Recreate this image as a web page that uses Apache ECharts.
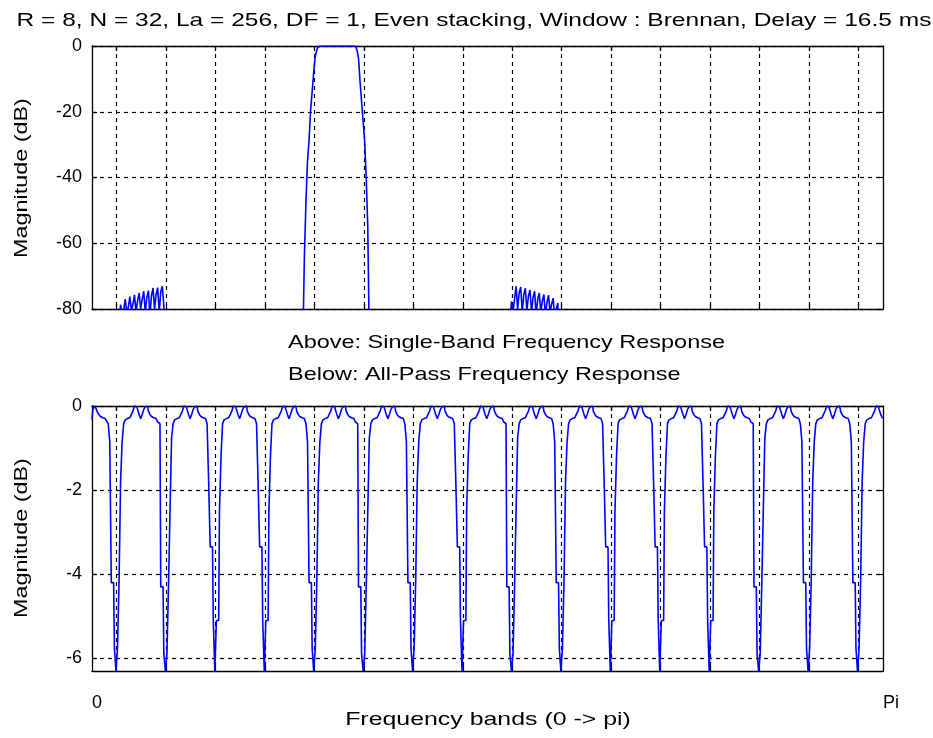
<!DOCTYPE html>
<html>
<head>
<meta charset="utf-8">
<title>Filter bank frequency response</title>
<script src="https://cdn.jsdelivr.net/npm/echarts@6/dist/echarts.min.js"></script>
<style>
  html, body { margin: 0; padding: 0; background: #fff; }
  #chart { width: 933px; height: 738px; }
</style>
</head>
<body>
<div id="chart"></div>
<script>
// Frequency grid: 32 samples per band, 16 bands between 0 and pi (x in band units)
const SAMPLES_PER_BAND = 32;

// Vertical grid lines sit on the band edges
const bandEdges = [0.5, 1.5, 2.5, 3.5, 4.5, 5.5, 6.5, 7.5, 8.5, 9.5, 10.5, 11.5, 12.5, 13.5, 14.5, 15.5];
const singleBandTicks = [0, -20, -40, -60, -80];
const allPassTicks = [0, -2, -4, -6];
const bandEndLabels = ['0', 'Pi'];

// Single-band response (dB). Only the pieces that rise above -80 dB are kept;
// each piece starts at the given sample index on the frequency grid.
const imageLobeLowStart = 17;
const imageLobeLow = [
  -95, -84, -78.7, -82, -80.5, -77, -81, -79.5, -76.2, -80.5, -78.5, -75.7, -81, -77.5, -75.1, -80,
  -77, -74.6, -81, -76.5, -74.4, -82, -76, -73.6, -80, -75.5, -73.5, -81, -74.8, -73.1, -79, -95
];
const mainLobeStart = 136;
const mainLobe = [
  -110, -90, -63.5, -47.3, -35, -28.6, -19.5, -13.9, -8, -3.2, -1.2, -0.3,
  0, 0, 0, 0, 0, 0, 0, 0, 0, 0, 0, 0, 0, 0, 0, 0, 0, 0, 0, 0, 0, 0, 0,
  -0.3, -1.2, -3.7, -10.8, -16.9, -23, -29, -40.2, -55, -90, -110
];
const imageLobeHighStart = 270;
const imageLobeHigh = [
  -95, -84, -77.7, -81, -77, -73.1, -80, -75, -73.3, -81, -75.5, -73.7, -80.5, -76, -74.2, -81,
  -76.5, -74.6, -82, -77, -75.1, -81, -77.5, -75.6, -82, -78, -75.8, -81, -78.5, -76.7, -83, -80,
  -78.2, -95
];

// All-pass response (dB), one row per band: starts at the band centre,
// passes the notch at the band edge and ends just before the next centre.
const allPassBand0 = [-0.33, -0.1, 0, -0.05, -0.15, -0.2, -0.25, -0.28, -0.3, -0.32, -0.36, -0.42, -0.85, -4.2, -4.2, -5.76, -6.3, -5.76, -4.2, -1.8, -0.85, -0.42, -0.33, -0.3, -0.28, -0.25, -0.2, -0.12, 0, -0.02, -0.08, -0.2];
const allPassBand1 = [-0.3, -0.2, -0.08, -0.02, 0, -0.12, -0.2, -0.25, -0.28, -0.3, -0.33, -0.38, -0.42, -4.3, -4.3, -5.9, -6.3, -5.9, -4.3, -2.5, -0.76, -0.42, -0.33, -0.3, -0.28, -0.25, -0.2, -0.12, 0, -0.02, -0.08, -0.2];
const allPassBand2 = [-0.3, -0.2, -0.08, -0.02, 0, -0.12, -0.2, -0.25, -0.28, -0.3, -0.33, -0.42, -1.8, -3.35, -3.35, -5.1, -6.3, -5.1, -5.1, -2.5, -1.2, -0.42, -0.33, -0.3, -0.28, -0.25, -0.2, -0.12, 0, -0.02, -0.08, -0.2];
const allPassBand3 = [-0.3, -0.2, -0.08, -0.02, 0, -0.12, -0.2, -0.25, -0.28, -0.3, -0.33, -0.42, -1.8, -3.35, -3.35, -5.1, -6.3, -5.1, -5.1, -2.5, -1.2, -0.42, -0.33, -0.3, -0.28, -0.25, -0.2, -0.12, 0, -0.02, -0.08, -0.2];
const allPassBand4 = [-0.3, -0.2, -0.08, -0.02, 0, -0.12, -0.2, -0.25, -0.28, -0.3, -0.33, -0.42, -0.85, -4.2, -4.2, -5.76, -6.3, -5.76, -4.2, -1.8, -0.85, -0.42, -0.33, -0.3, -0.28, -0.25, -0.2, -0.12, 0, -0.02, -0.08, -0.2];
const allPassBand5 = [-0.3, -0.2, -0.08, -0.02, 0, -0.12, -0.2, -0.25, -0.28, -0.3, -0.33, -0.38, -0.42, -4.3, -4.3, -5.9, -6.3, -5.9, -4.3, -2.5, -0.76, -0.42, -0.33, -0.3, -0.28, -0.25, -0.2, -0.12, 0, -0.02, -0.08, -0.2];
const allPassBand6 = [-0.3, -0.2, -0.08, -0.02, 0, -0.12, -0.2, -0.25, -0.28, -0.3, -0.33, -0.42, -0.85, -4.2, -4.2, -5.76, -6.3, -5.76, -4.2, -1.8, -0.85, -0.42, -0.33, -0.3, -0.28, -0.25, -0.2, -0.12, 0, -0.02, -0.08, -0.2];
const allPassBand7 = [-0.3, -0.2, -0.08, -0.02, 0, -0.12, -0.2, -0.25, -0.28, -0.3, -0.33, -0.42, -1.8, -3.35, -3.35, -5.1, -6.3, -5.1, -5.1, -2.5, -1.2, -0.42, -0.33, -0.3, -0.28, -0.25, -0.2, -0.12, 0, -0.02, -0.08, -0.2];
const allPassBand8 = [-0.3, -0.2, -0.08, -0.02, 0, -0.12, -0.2, -0.25, -0.28, -0.3, -0.33, -0.38, -0.42, -4.3, -4.3, -5.9, -6.3, -5.9, -4.3, -2.5, -0.76, -0.42, -0.33, -0.3, -0.28, -0.25, -0.2, -0.12, 0, -0.02, -0.08, -0.2];
const allPassBand9 = [-0.3, -0.2, -0.08, -0.02, 0, -0.12, -0.2, -0.25, -0.28, -0.3, -0.33, -0.42, -0.85, -4.2, -4.2, -5.76, -6.3, -5.76, -4.2, -1.8, -0.85, -0.42, -0.33, -0.3, -0.28, -0.25, -0.2, -0.12, 0, -0.02, -0.08, -0.2];
const allPassBand10 = [-0.3, -0.2, -0.08, -0.02, 0, -0.12, -0.2, -0.25, -0.28, -0.3, -0.33, -0.42, -1.8, -3.35, -3.35, -5.1, -6.3, -5.1, -5.1, -2.5, -1.2, -0.42, -0.33, -0.3, -0.28, -0.25, -0.2, -0.12, 0, -0.02, -0.08, -0.2];
const allPassBand11 = [-0.3, -0.2, -0.08, -0.02, 0, -0.12, -0.2, -0.25, -0.28, -0.3, -0.33, -0.42, -1.8, -3.35, -3.35, -5.1, -6.3, -5.1, -5.1, -2.5, -1.2, -0.42, -0.33, -0.3, -0.28, -0.25, -0.2, -0.12, 0, -0.02, -0.08, -0.2];
const allPassBand12 = [-0.3, -0.2, -0.08, -0.02, 0, -0.12, -0.2, -0.25, -0.28, -0.3, -0.33, -0.42, -1.8, -3.35, -3.35, -5.1, -6.3, -5.1, -5.1, -2.5, -1.2, -0.42, -0.33, -0.3, -0.28, -0.25, -0.2, -0.12, 0, -0.02, -0.08, -0.2];
const allPassBand13 = [-0.3, -0.2, -0.08, -0.02, 0, -0.12, -0.2, -0.25, -0.28, -0.3, -0.33, -0.38, -0.42, -4.3, -4.3, -5.9, -6.3, -5.9, -4.3, -2.5, -0.76, -0.42, -0.33, -0.3, -0.28, -0.25, -0.2, -0.12, 0, -0.02, -0.08, -0.2];
const allPassBand14 = [-0.3, -0.2, -0.08, -0.02, 0, -0.12, -0.2, -0.25, -0.28, -0.3, -0.33, -0.42, -0.85, -4.2, -4.2, -5.76, -6.3, -5.76, -4.2, -1.8, -0.85, -0.42, -0.33, -0.3, -0.28, -0.25, -0.2, -0.12, 0, -0.02, -0.08, -0.2];
const allPassBand15 = [-0.3, -0.2, -0.08, -0.02, 0, -0.12, -0.2, -0.25, -0.28, -0.3, -0.33, -0.42, -0.85, -4.2, -4.2, -5.76, -6.3, -5.76, -4.2, -1.8, -0.85, -0.42, -0.33, -0.3, -0.28, -0.25, -0.2, -0.12, 0, -0.02, -0.08, -0.2];
const allPassAtPi = -0.28;

const allPassRows = [
  allPassBand0, allPassBand1, allPassBand2, allPassBand3, allPassBand4, allPassBand5,
  allPassBand6, allPassBand7, allPassBand8, allPassBand9, allPassBand10, allPassBand11,
  allPassBand12, allPassBand13, allPassBand14, allPassBand15
];

// Pair each value with its frequency (in band units) on the sample grid
function onGrid(start, values) {
  return values.map((v, j) => [(start + j) / SAMPLES_PER_BAND, v]);
}

const allPassValues = [].concat(...allPassRows, [allPassAtPi]);

const BLUE = '#0000ff';
const INK = '#000000';
const FONT = '"Liberation Sans", Arial, sans-serif';

const dashed = { show: true, lineStyle: { color: INK, width: 1.2, type: [4, 4] } };
const frame = { show: true, onZero: false, lineStyle: { color: INK, width: 1.3 } };

function freqAxis(gridIndex, position, withGrid, labels) {
  return {
    type: 'value', gridIndex, position, min: 0, max: 16,
    axisLine: frame,
    axisTick: { show: true, inside: true, length: 5, lineStyle: { color: INK, width: 1.2 }, customValues: bandEdges },
    splitLine: withGrid ? dashed : { show: false },
    axisLabel: labels ? {
      show: true, customValues: [0, 16], align: 'left', margin: 23,
      color: INK, fontSize: 18, fontFamily: FONT,
      formatter: v => (v === 0 ? bandEndLabels[0] : bandEndLabels[1])
    } : { show: false }
  };
}

function magAxis(gridIndex, position, min, ticks, withGrid) {
  return {
    type: 'value', gridIndex, position, min, max: 0,
    axisLine: frame,
    axisTick: { show: true, inside: true, length: 5, lineStyle: { color: INK, width: 1.2 }, customValues: ticks },
    splitLine: withGrid ? dashed : { show: false },
    axisLabel: withGrid ? {
      show: true, customValues: ticks, margin: 10,
      color: INK, fontSize: 18, fontFamily: FONT
    } : { show: false }
  };
}

function lineSeries(xAxisIndex, yAxisIndex, data) {
  return {
    type: 'line', xAxisIndex, yAxisIndex, data,
    step: 'middle', showSymbol: false, symbol: 'none', clip: true,
    lineStyle: { color: BLUE, width: 1.6 }, silent: true
  };
}

function caption(text, x, y, scaleX, extra) {
  const align = (extra && extra.align) || 'center';
  return Object.assign({
    type: 'text', x, y, scaleX, silent: true,
    style: {
      text, fill: INK, font: '19px ' + FONT,
      align, verticalAlign: 'middle',
      textAlign: align, textVerticalAlign: 'middle'
    }
  }, extra && extra.rotation ? { rotation: extra.rotation } : {});
}

const chart = echarts.init(document.getElementById('chart'), null, { renderer: 'canvas' });

chart.setOption({
  animation: false,
  backgroundColor: '#ffffff',
  grid: [
    { left: 92, top: 46, width: 791, height: 263 },
    { left: 92, top: 406, width: 791, height: 265 }
  ],
  xAxis: [
    freqAxis(0, 'bottom', true, false),
    freqAxis(0, 'top', false, false),
    freqAxis(1, 'bottom', true, true),
    freqAxis(1, 'top', false, false)
  ],
  yAxis: [
    magAxis(0, 'left', -80, singleBandTicks, true),
    magAxis(0, 'right', -80, singleBandTicks, false),
    magAxis(1, 'left', -6.3, allPassTicks, true),
    magAxis(1, 'right', -6.3, allPassTicks, false)
  ],
  series: [
    lineSeries(0, 0, onGrid(imageLobeLowStart, imageLobeLow)),
    lineSeries(0, 0, onGrid(mainLobeStart, mainLobe)),
    lineSeries(0, 0, onGrid(imageLobeHighStart, imageLobeHigh)),
    lineSeries(2, 2, onGrid(0, allPassValues))
  ],
  graphic: [
    caption('R = 8, N = 32, La = 256, DF = 1, Even stacking, Window : Brennan, Delay = 16.5 ms', 474, 21, 1.29),
    caption('Above: Single-Band Frequency Response', 288, 343, 1.235, { align: 'left' }),
    caption('Below: All-Pass Frequency Response', 288, 375, 1.235, { align: 'left' }),
    caption('Frequency bands (0 -> pi)', 488, 720, 1.31),
    caption('Magnitude (dB)', 22, 178, 1.23, { rotation: Math.PI / 2 }),
    caption('Magnitude (dB)', 22, 538, 1.23, { rotation: Math.PI / 2 })
  ]
});
</script>
</body>
</html>
